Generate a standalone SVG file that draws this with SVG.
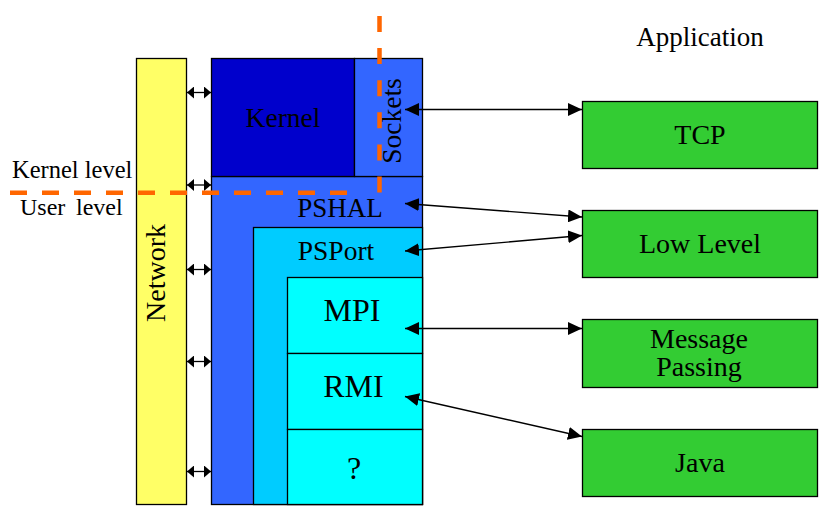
<svg xmlns="http://www.w3.org/2000/svg" width="827" height="516" viewBox="0 0 827 516">
  <style>
    .box { stroke: #000; stroke-width: 1.3; }
    .t { font-family: "Liberation Serif", "Times New Roman", serif; fill: #000; text-anchor: middle; }
    .l { font-family: "Liberation Serif", "Times New Roman", serif; fill: #000; }
    .link { stroke: #000; stroke-width: 1.3; fill: none; }
    .big { marker-start: url(#headBig); marker-end: url(#headBig); }
    .small { marker-start: url(#headSmall); marker-end: url(#headSmall); }
    .split { stroke: #FF6600; stroke-width: 4.5; fill: none; }
  </style>
  <defs>
    <marker id="headBig" markerUnits="userSpaceOnUse" markerWidth="14" markerHeight="13" refX="14" refY="6.5" orient="auto-start-reverse">
      <path d="M0,0 L14,6.5 L0,13 z" fill="#000"/>
    </marker>
    <marker id="headSmall" markerUnits="userSpaceOnUse" markerWidth="7" markerHeight="12" refX="7" refY="6" orient="auto-start-reverse">
      <path d="M0,0 L7,6 L0,12 z" fill="#000"/>
    </marker>
  </defs>
  <rect width="827" height="516" fill="#fff"/>

  <!-- side labels -->
  <text class="t" x="700" y="46" font-size="27">Application</text>
  <text class="l" x="12" y="178" font-size="24.5">Kernel level</text>
  <text class="l" y="215" font-size="24"><tspan x="20">User</tspan><tspan x="76">level</tspan></text>

  <!-- network bus -->
  <g id="network">
    <rect class="box" x="136.5" y="58.5" width="50" height="446" fill="#FFFF66"/>
    <text class="t" font-size="28" transform="translate(165,273) rotate(-90)">Network</text>
  </g>

  <!-- protocol stack -->
  <g id="pshal">
    <rect class="box" x="211.5" y="176.5" width="211" height="328" fill="#3366FF"/>
    <text class="t" x="340" y="217" font-size="27">PSHAL</text>
  </g>
  <g id="kernel">
    <rect class="box" x="211.5" y="58.5" width="143" height="118" fill="#0000CC"/>
    <text class="t" x="283" y="127" font-size="27.5">Kernel</text>
  </g>
  <g id="sockets">
    <rect class="box" x="354.5" y="58.5" width="68" height="118" fill="#3366FF"/>
    <text class="t" font-size="27.5" transform="translate(401,121) rotate(-90)">Sockets</text>
  </g>
  <g id="psport">
    <rect class="box" x="253.5" y="227.5" width="169" height="277" fill="#00CCFF"/>
    <text class="t" x="336" y="260" font-size="27.5">PSPort</text>
  </g>
  <g id="mpi">
    <rect class="box" x="287.5" y="277.5" width="135" height="76" fill="#00FFFF"/>
    <text class="t" x="352" y="321" font-size="32">MPI</text>
  </g>
  <g id="rmi">
    <rect class="box" x="287.5" y="353.5" width="135" height="76" fill="#00FFFF"/>
    <text class="t" x="353.5" y="397" font-size="32">RMI</text>
  </g>
  <g id="other">
    <rect class="box" x="287.5" y="429.5" width="135" height="75" fill="#00FFFF"/>
    <text class="t" x="354" y="479" font-size="32">?</text>
  </g>

  <!-- applications -->
  <g id="tcp">
    <rect class="box" x="582.5" y="101.5" width="235" height="67" fill="#33CC33"/>
    <text class="t" x="700" y="144" font-size="28">TCP</text>
  </g>
  <g id="lowlevel">
    <rect class="box" x="582.5" y="210.5" width="235" height="67" fill="#33CC33"/>
    <text class="t" x="700" y="253" font-size="28">Low Level</text>
  </g>
  <g id="message">
    <rect class="box" x="582.5" y="319.5" width="235" height="68" fill="#33CC33"/>
    <text class="t" x="699" y="348" font-size="28">Message</text>
    <text class="t" x="699" y="376" font-size="28">Passing</text>
  </g>
  <g id="java">
    <rect class="box" x="582.5" y="429.5" width="235" height="67" fill="#33CC33"/>
    <text class="t" x="700" y="472" font-size="28">Java</text>
  </g>

  <!-- connectors -->
  <g id="connectors">
    <line class="link small" x1="187" y1="92.5" x2="211" y2="92.5"/>
    <line class="link small" x1="187" y1="185" x2="211" y2="185"/>
    <line class="link small" x1="187" y1="269.5" x2="211" y2="269.5"/>
    <line class="link small" x1="187" y1="361.5" x2="211" y2="361.5"/>
    <line class="link small" x1="187" y1="471.5" x2="211" y2="471.5"/>

    <line class="link big" x1="405" y1="109.5" x2="582" y2="109.5"/>
    <line class="link big" x1="405" y1="203.5" x2="582" y2="217"/>
    <line class="link big" x1="405" y1="251" x2="582" y2="235.5"/>
    <line class="link big" x1="405" y1="328.5" x2="582" y2="328.5"/>
    <line class="link big" x1="405" y1="396.5" x2="582" y2="436.5"/>
  </g>

  <!-- kernel / user boundary -->
  <g id="boundary">
    <line class="split" x1="10" y1="192.7" x2="348" y2="192.7" stroke-dasharray="17 15"/>
    <line class="split" x1="379.5" y1="16" x2="379.5" y2="192.7" stroke-dasharray="16 16.1"/>
  </g>
</svg>
